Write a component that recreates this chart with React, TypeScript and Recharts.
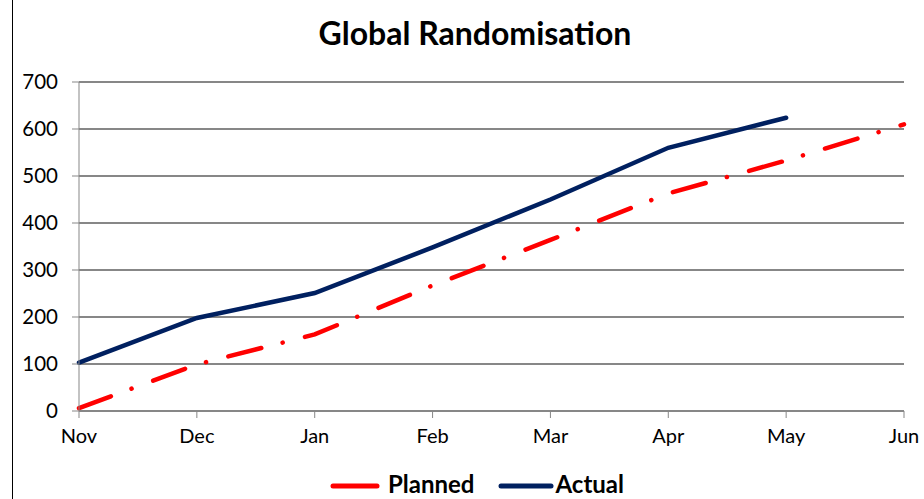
import React from 'react';
import { LineChart, Line, XAxis, YAxis, CartesianGrid } from 'recharts';

const months = ['Nov', 'Dec', 'Jan', 'Feb', 'Mar', 'Apr', 'May', 'Jun'];
const planned = [6, 99, 163, 267, 364, 463, 533, 610];
const actual = [103, 198, 251, 348, 450, 560, 624];
const yTicks = [0, 100, 200, 300, 400, 500, 600, 700];

const data = months.map((m, i) => ({
  month: m,
  planned: planned[i],
  actual: i < actual.length ? actual[i] : null,
}));

const font = 'Lato, "Open Sans", sans-serif';
const gridGray = '#878787';

export default function App() {
  return (
    <div style={{ position: 'absolute', left: 0, top: 0, width: 924, height: 499, background: '#fff', fontFamily: font, overflow: 'hidden' }}>
      <div style={{ position: 'absolute', left: 12, top: 0, width: 1, height: 499, background: '#000' }} />
      <div
        style={{
          position: 'absolute',
          left: 0,
          width: 950,
          top: 13,
          textAlign: 'center',
          fontSize: 32,
          fontWeight: 700,
          color: '#000',
          lineHeight: '40px',
        }}
      >
        Global Randomisation
      </div>
      <LineChart width={924} height={499} data={data} margin={{ top: 82, right: 20, bottom: 0, left: 0 }}>
        <CartesianGrid vertical={false} stroke={gridGray} strokeWidth={2} />
        <XAxis
          dataKey="month"
          height={88}
          stroke={gridGray}
          tickSize={7}
          tickMargin={11}
          tick={{ fill: '#000', fontSize: 20, fontFamily: font }}
          interval={0}
        />
        <YAxis
          width={79}
          domain={[0, 700]}
          ticks={yTicks}
          stroke={gridGray}
          tickSize={7}
          tickMargin={14}
          tick={{ fill: '#000', fontSize: 20.5, fontFamily: font }}
        />
        <Line
          dataKey="planned"
          stroke="#ff0000"
          strokeWidth={4.5}
          strokeLinecap="round"
          strokeDasharray="34 22 0.1 23"
          dot={false}
          isAnimationActive={false}
        />
        <Line
          dataKey="actual"
          stroke="#002060"
          strokeWidth={4.5}
          strokeLinecap="round"
          dot={false}
          isAnimationActive={false}
        />
      </LineChart>
      <div
        style={{
          position: 'absolute',
          left: 330,
          top: 472,
          height: 24,
          display: 'flex',
          alignItems: 'center',
          fontSize: 24,
          fontWeight: 700,
          lineHeight: '24px',
        }}
      >
        <svg width={50} height={10} style={{ marginRight: 8, marginTop: 4 }}>
          <line x1={3} y1={5} x2={47} y2={5} stroke="#ff0000" strokeWidth={5} strokeLinecap="round" />
        </svg>
        <span style={{ marginRight: 24 }}>Planned</span>
        <svg width={56} height={10} style={{ marginRight: 1, marginTop: 4 }}>
          <line x1={3} y1={5} x2={53} y2={5} stroke="#002060" strokeWidth={5} strokeLinecap="round" />
        </svg>
        <span>Actual</span>
      </div>
    </div>
  );
}
